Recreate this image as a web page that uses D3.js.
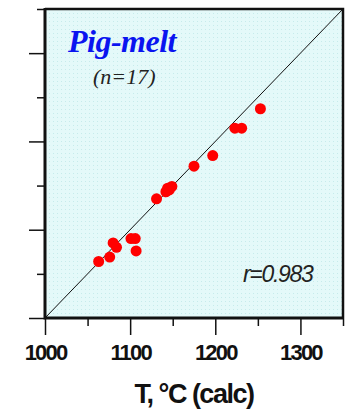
<!DOCTYPE html>
<html>
<head>
<meta charset="utf-8">
<script src="https://cdn.jsdelivr.net/npm/d3@7"></script>
<style>
  body { margin: 0; background: #fff; }
  svg { display: block; }
</style>
</head>
<body>
<div id="chart"></div>
<script>
const tCalc = [1063, 1076, 1080, 1084, 1101, 1106, 1107, 1131, 1142, 1144, 1146, 1149, 1175, 1197, 1223, 1231, 1253];
const tMeas = [1064, 1069, 1085, 1080, 1090, 1090, 1076, 1135, 1143, 1147, 1145, 1149, 1172, 1184, 1215, 1215, 1237];
const majorTicks = [1000, 1100, 1200, 1300];
const minorTicks = [1050, 1150, 1250, 1350];
const domainT = [1000, 1350];

const W = 347, H = 413;
const margin = { top: 9, right: 4, bottom: 95, left: 45 };
const width = W - margin.left - margin.right,
    height = H - margin.top - margin.bottom;

const svg = d3.select("#chart").append("svg")
    .attr("width", W)
    .attr("height", H);

// dotted background pattern
const defs = svg.append("defs");
const pat = defs.append("pattern")
    .attr("id", "dots")
    .attr("width", 4).attr("height", 4)
    .attr("patternUnits", "userSpaceOnUse");
pat.append("rect").attr("width", 4).attr("height", 4).attr("fill", "#e4f9f9");
pat.append("rect").attr("width", 1).attr("height", 1).attr("fill", "#c6ebeb");

const g = svg.append("g")
    .attr("transform", "translate(" + margin.left + "," + margin.top + ")");

const x = d3.scaleLinear().domain(domainT).range([0, width]);
const y = d3.scaleLinear().domain(domainT).range([height, 0]);

g.append("rect")
    .attr("width", width).attr("height", height)
    .attr("fill", "url(#dots)");

// top / right frame
g.append("path")
    .attr("d", "M0,0H" + width + "V" + height)
    .attr("fill", "none").attr("stroke", "#111").attr("stroke-width", 2.5);

// 1:1 line
g.append("line")
    .attr("x1", x(domainT[0])).attr("y1", y(domainT[0]))
    .attr("x2", x(domainT[1])).attr("y2", y(domainT[1]))
    .attr("stroke", "#111").attr("stroke-width", 1);

// points
g.selectAll(".dot")
    .data(tCalc.map((d, i) => ({ c: d, m: tMeas[i] })))
    .enter().append("circle")
    .attr("class", "dot")
    .attr("cx", d => x(d.c))
    .attr("cy", d => y(d.m))
    .attr("r", 5.5)
    .attr("fill", "#ff0000");

// axes
function styleAxis(sel) {
    sel.select(".domain").remove();
    sel.selectAll("line").attr("stroke", "#111").attr("stroke-width", 1.5);
}

const xMinor = g.append("g").attr("transform", "translate(0," + height + ")")
    .call(d3.axisBottom(x).tickValues(minorTicks).tickSize(8).tickFormat(""));
styleAxis(xMinor);

const xMajor = g.append("g").attr("transform", "translate(0," + height + ")")
    .call(d3.axisBottom(x).tickValues(majorTicks).tickSize(17).tickPadding(9).tickFormat(d3.format("d")));
styleAxis(xMajor);
xMajor.selectAll("text")
    .attr("font-family", "Liberation Sans, Arial, sans-serif")
    .attr("font-weight", "bold")
    .attr("font-size", 22)
    .attr("letter-spacing", -1.8)
    .attr("fill", "#111");

const yMinor = g.append("g")
    .call(d3.axisLeft(y).tickValues(minorTicks).tickSize(8).tickFormat(""));
styleAxis(yMinor);

const yMajor = g.append("g")
    .call(d3.axisLeft(y).tickValues(majorTicks).tickSize(16).tickFormat(""));
styleAxis(yMajor);

// thick left and bottom axis lines
g.append("path")
    .attr("d", "M0,-1V" + height + "H" + (width + 1))
    .attr("fill", "none").attr("stroke", "#111").attr("stroke-width", 3);

// labels
g.append("text")
    .attr("x", 23).attr("y", 43)
    .attr("font-family", "Liberation Serif, Times New Roman, serif")
    .attr("font-style", "italic").attr("font-weight", "bold")
    .attr("font-size", 32).attr("fill", "#0a14f0")
    .attr("letter-spacing", -0.5)
    .text("Pig-melt");

g.append("text")
    .attr("x", 48).attr("y", 75)
    .attr("font-family", "Liberation Serif, Times New Roman, serif")
    .attr("font-style", "italic")
    .attr("font-size", 22).attr("fill", "#222")
    .text("(n=17)");

g.append("text")
    .attr("x", 198).attr("y", 273)
    .attr("font-family", "Liberation Sans, Arial, sans-serif")
    .attr("font-style", "italic")
    .attr("font-size", 23).attr("letter-spacing", -1.3)
    .attr("fill", "#222")
    .text("r=0.983");

svg.append("text")
    .attr("x", 194).attr("y", 403)
    .attr("text-anchor", "middle")
    .attr("font-family", "Liberation Sans, Arial, sans-serif")
    .attr("font-weight", "bold")
    .attr("font-size", 27).attr("letter-spacing", -1.5)
    .attr("fill", "#111")
    .text("T, °C (calc)");
</script>
</body>
</html>
